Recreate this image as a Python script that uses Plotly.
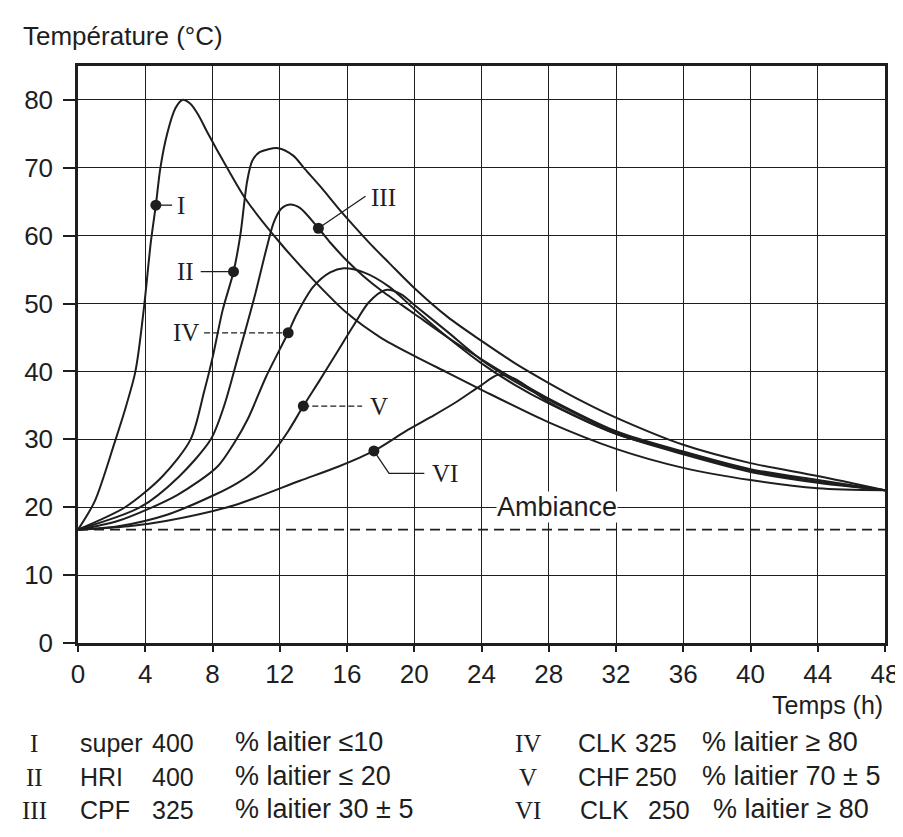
import plotly.graph_objects as go

# Courbes d'échauffement : temps (h) et température (°C)
t_I = [0, 1, 2.2, 2.8, 3.37, 3.55, 3.95, 4.33, 4.63, 4.9, 5.3, 5.8, 6.2, 6.7, 7.2, 7.7, 8.8, 10, 12, 14, 16, 18, 20, 22, 24, 28, 32, 36, 40, 44, 48]
T_I = [16.7, 20.9, 29.7, 34.4, 39.5, 42, 50, 59, 64.5, 70, 75, 78.8, 80, 79.4, 77.6, 75.2, 70.3, 65.3, 59, 53.5, 48.6, 45, 42.3, 39.8, 37.3, 32.5, 28.6, 25.8, 24, 22.8, 22.5]

t_II = [0, 2.8, 5, 6.7, 7.5, 8.0, 8.6, 9.25, 9.65, 10.06, 10.36, 10.8, 11.9, 12.8, 13.5, 14.5, 15.5, 16.5, 17.5, 18.5, 20, 22, 24, 26, 28, 30, 32, 36, 40, 44, 48]
T_II = [16.7, 20, 24.5, 30, 37, 42, 49, 54.7, 60, 68, 71, 72.3, 72.9, 71.8, 69.8, 67, 64, 61.2, 58.5, 56, 52.3, 48, 44.5, 41.2, 38.3, 35.6, 33.2, 29.2, 26.5, 24.6, 22.5]

t_III = [0, 3.7, 6, 7.9, 8.7, 9.5, 10.5, 11.2, 11.65, 12.1, 12.6, 13.2, 14.3, 15, 16, 17, 18, 20, 22, 24, 26, 28, 32, 36, 40, 44, 48]
T_III = [16.7, 20, 24.5, 30, 35, 42, 51, 58, 62, 64, 64.6, 64.1, 61.1, 59, 56.3, 54, 52, 48.5, 45, 41.8, 38.8, 36, 31.2, 28.2, 25.6, 24, 22.5]

t_IV = [0, 2.4, 5.9, 8.3, 9.3, 10.1, 11.2, 12.5, 13, 14, 15, 15.8, 17, 18.5, 20, 22, 24, 26, 28, 32, 36, 40, 44, 48]
T_IV = [16.7, 18, 21.8, 26, 29.5, 33, 39.3, 45.7, 48.4, 52.5, 54.6, 55.2, 54.6, 52.5, 49.2, 45, 41.2, 38, 35.3, 30.8, 27.8, 25.2, 23.6, 22.5]

t_V = [0, 2.4, 5.3, 8.1, 9.5, 10.5, 11.5, 12.5, 13.4, 14.4, 15.4, 16.4, 17.3, 18.3, 19.2, 20.1, 22, 24, 26, 28, 32, 36, 40, 44, 48]
T_V = [16.7, 17.2, 18.9, 21.8, 23.6, 25.3, 27.8, 31.2, 34.9, 38.8, 42.8, 46.8, 50.2, 52, 51.4, 49.6, 45.8, 41.7, 38.5, 35.8, 31, 28, 25.4, 23.8, 22.5]

t_VI = [0, 3, 5.3, 9.3, 13.2, 15.5, 17.6, 19.5, 21, 22.5, 24, 25, 26, 28, 32, 36, 40, 44, 48]
T_VI = [16.7, 17.2, 18, 20.3, 23.9, 26, 28.3, 31.2, 33.3, 35.5, 38, 39.5, 38.9, 35.5, 30.8, 28, 25.3, 23.7, 22.5]

ambient_T = 16.7

# repères (points noirs) et étiquettes en chiffres romains
curve_ids = ["I", "II", "III", "IV", "V", "VI"]
mark_t = [4.63, 9.25, 14.3, 12.5, 13.4, 17.6]
mark_T = [64.5, 54.7, 61.1, 45.7, 34.9, 28.3]
label_t = [6.1, 6.4, 18.2, 6.4, 17.9, 21.8]
label_T = [64.5, 54.7, 65.6, 45.7, 34.9, 25.0]
# traits de rappel (du point vers l'étiquette)
lead_t = [[4.63, 5.6], [7.3, 9.25], [14.3, 17.1], [7.5, 12.5], [13.4, 16.9], [17.6, 18.5, 20.6]]
lead_T = [[64.5, 64.5], [54.7, 54.7], [61.1, 65.8], [45.7, 45.7], [34.9, 34.9], [28.3, 25.0, 25.0]]
lead_dash = ["solid", "solid", "solid", "6px,3px", "6px,3px", "solid"]

# légende sous le graphique
leg_roman = ["I", "II", "III", "IV", "V", "VI"]
leg_cement = ["super", "HRI", "CPF", "CLK", "CHF", "CLK"]
leg_class = ["400", "400", "325", "325", "250", "250"]
leg_slag = ["% laitier ≤10", "% laitier ≤ 20", "% laitier 30 ± 5",
            "% laitier ≥ 80", "% laitier 70 ± 5", "% laitier ≥ 80"]

SANS = "Liberation Sans, Arial, sans-serif"
SERIF = "Liberation Serif, DejaVu Serif, serif"
INK = "#1e1e1e"

# zone de tracé en pixels (pour placer les textes hors du cadre)
L, R, T, B, W, H = 70, 22, 58, 202, 903, 837
pw, ph = W - L - R, H - T - B


def px(x):
    return (x - L) / pw


def py(y):
    return (H - B - y) / ph


fig = go.Figure()

curves = [(t_I, T_I), (t_II, T_II), (t_III, T_III), (t_IV, T_IV), (t_V, T_V), (t_VI, T_VI)]
for name, (t, temp) in zip(curve_ids, curves):
    fig.add_trace(go.Scatter(x=t, y=temp, mode="lines", name=name,
                             line=dict(color=INK, width=2, shape="spline", smoothing=0.8)))

# température ambiante
fig.add_trace(go.Scatter(x=[0, 48], y=[ambient_T, ambient_T], mode="lines",
                         line=dict(color=INK, width=1.6, dash="10px,6px")))

for lt, lT, dash in zip(lead_t, lead_T, lead_dash):
    fig.add_trace(go.Scatter(x=lt, y=lT, mode="lines",
                             line=dict(color=INK, width=1.3, dash=dash)))

fig.add_trace(go.Scatter(x=mark_t, y=mark_T, mode="markers",
                         marker=dict(color=INK, size=11)))

for name, x, y in zip(curve_ids, label_t, label_T):
    fig.add_annotation(x=x, y=y, text=name, showarrow=False,
                       font=dict(family=SERIF, size=25, color=INK))

fig.add_annotation(x=28.5, y=20, text="Ambiance", showarrow=False, bgcolor="white",
                   borderpad=0, font=dict(family=SANS, size=27, color=INK))

fig.add_annotation(x=px(13), y=py(28), xref="paper", yref="paper", xanchor="left", yanchor="middle",
                   text="Température (°C)", showarrow=False,
                   font=dict(family=SANS, size=26, color=INK))
fig.add_annotation(x=px(881), y=py(697), xref="paper", yref="paper", xanchor="right", yanchor="middle",
                   text="Temps (h)", showarrow=False,
                   font=dict(family=SANS, size=25, color=INK))

rows_y = [751, 785, 818]
col_x = [(26, 70, 142, 226), (26, 70, 142, 226), (26, 70, 142, 226),
         (522, 570, 628, 695), (522, 570, 628, 695), (522, 572, 641, 706)]
for i in range(6):
    yy = py(rows_y[i % 3])
    xr, xn, xc, xs = col_x[i]
    fig.add_annotation(x=px(xr), y=yy, xref="paper", yref="paper", text=leg_roman[i], showarrow=False,
                       xanchor="center", font=dict(family=SERIF, size=25, color=INK))
    for txt, xx, size in [(leg_cement[i], xn, 25), (leg_class[i], xc, 25), (leg_slag[i], xs, 27)]:
        fig.add_annotation(x=px(xx), y=yy, xref="paper", yref="paper", text=txt, showarrow=False,
                           xanchor="left", font=dict(family=SANS, size=size, color=INK))

axis_common = dict(showline=True, mirror=True, linecolor=INK, linewidth=2.5,
                   showgrid=True, gridcolor=INK, gridwidth=1.4, zeroline=False,
                   ticks="outside", tickcolor=INK, tickwidth=1.5,
                   tickfont=dict(family=SANS, size=26, color=INK))

fig.update_xaxes(range=[0, 48], tick0=0, dtick=4, ticklen=6, **axis_common)
fig.update_yaxes(range=[0, 85], tickvals=[0, 10, 20, 30, 40, 50, 60, 70, 80],
                 ticklen=12, ticklabelstandoff=5, **axis_common)

fig.update_layout(width=W, height=H, showlegend=False,
                  margin=dict(l=L, r=R, t=T, b=B),
                  plot_bgcolor="white", paper_bgcolor="white")

fig.write_html("out.html")
